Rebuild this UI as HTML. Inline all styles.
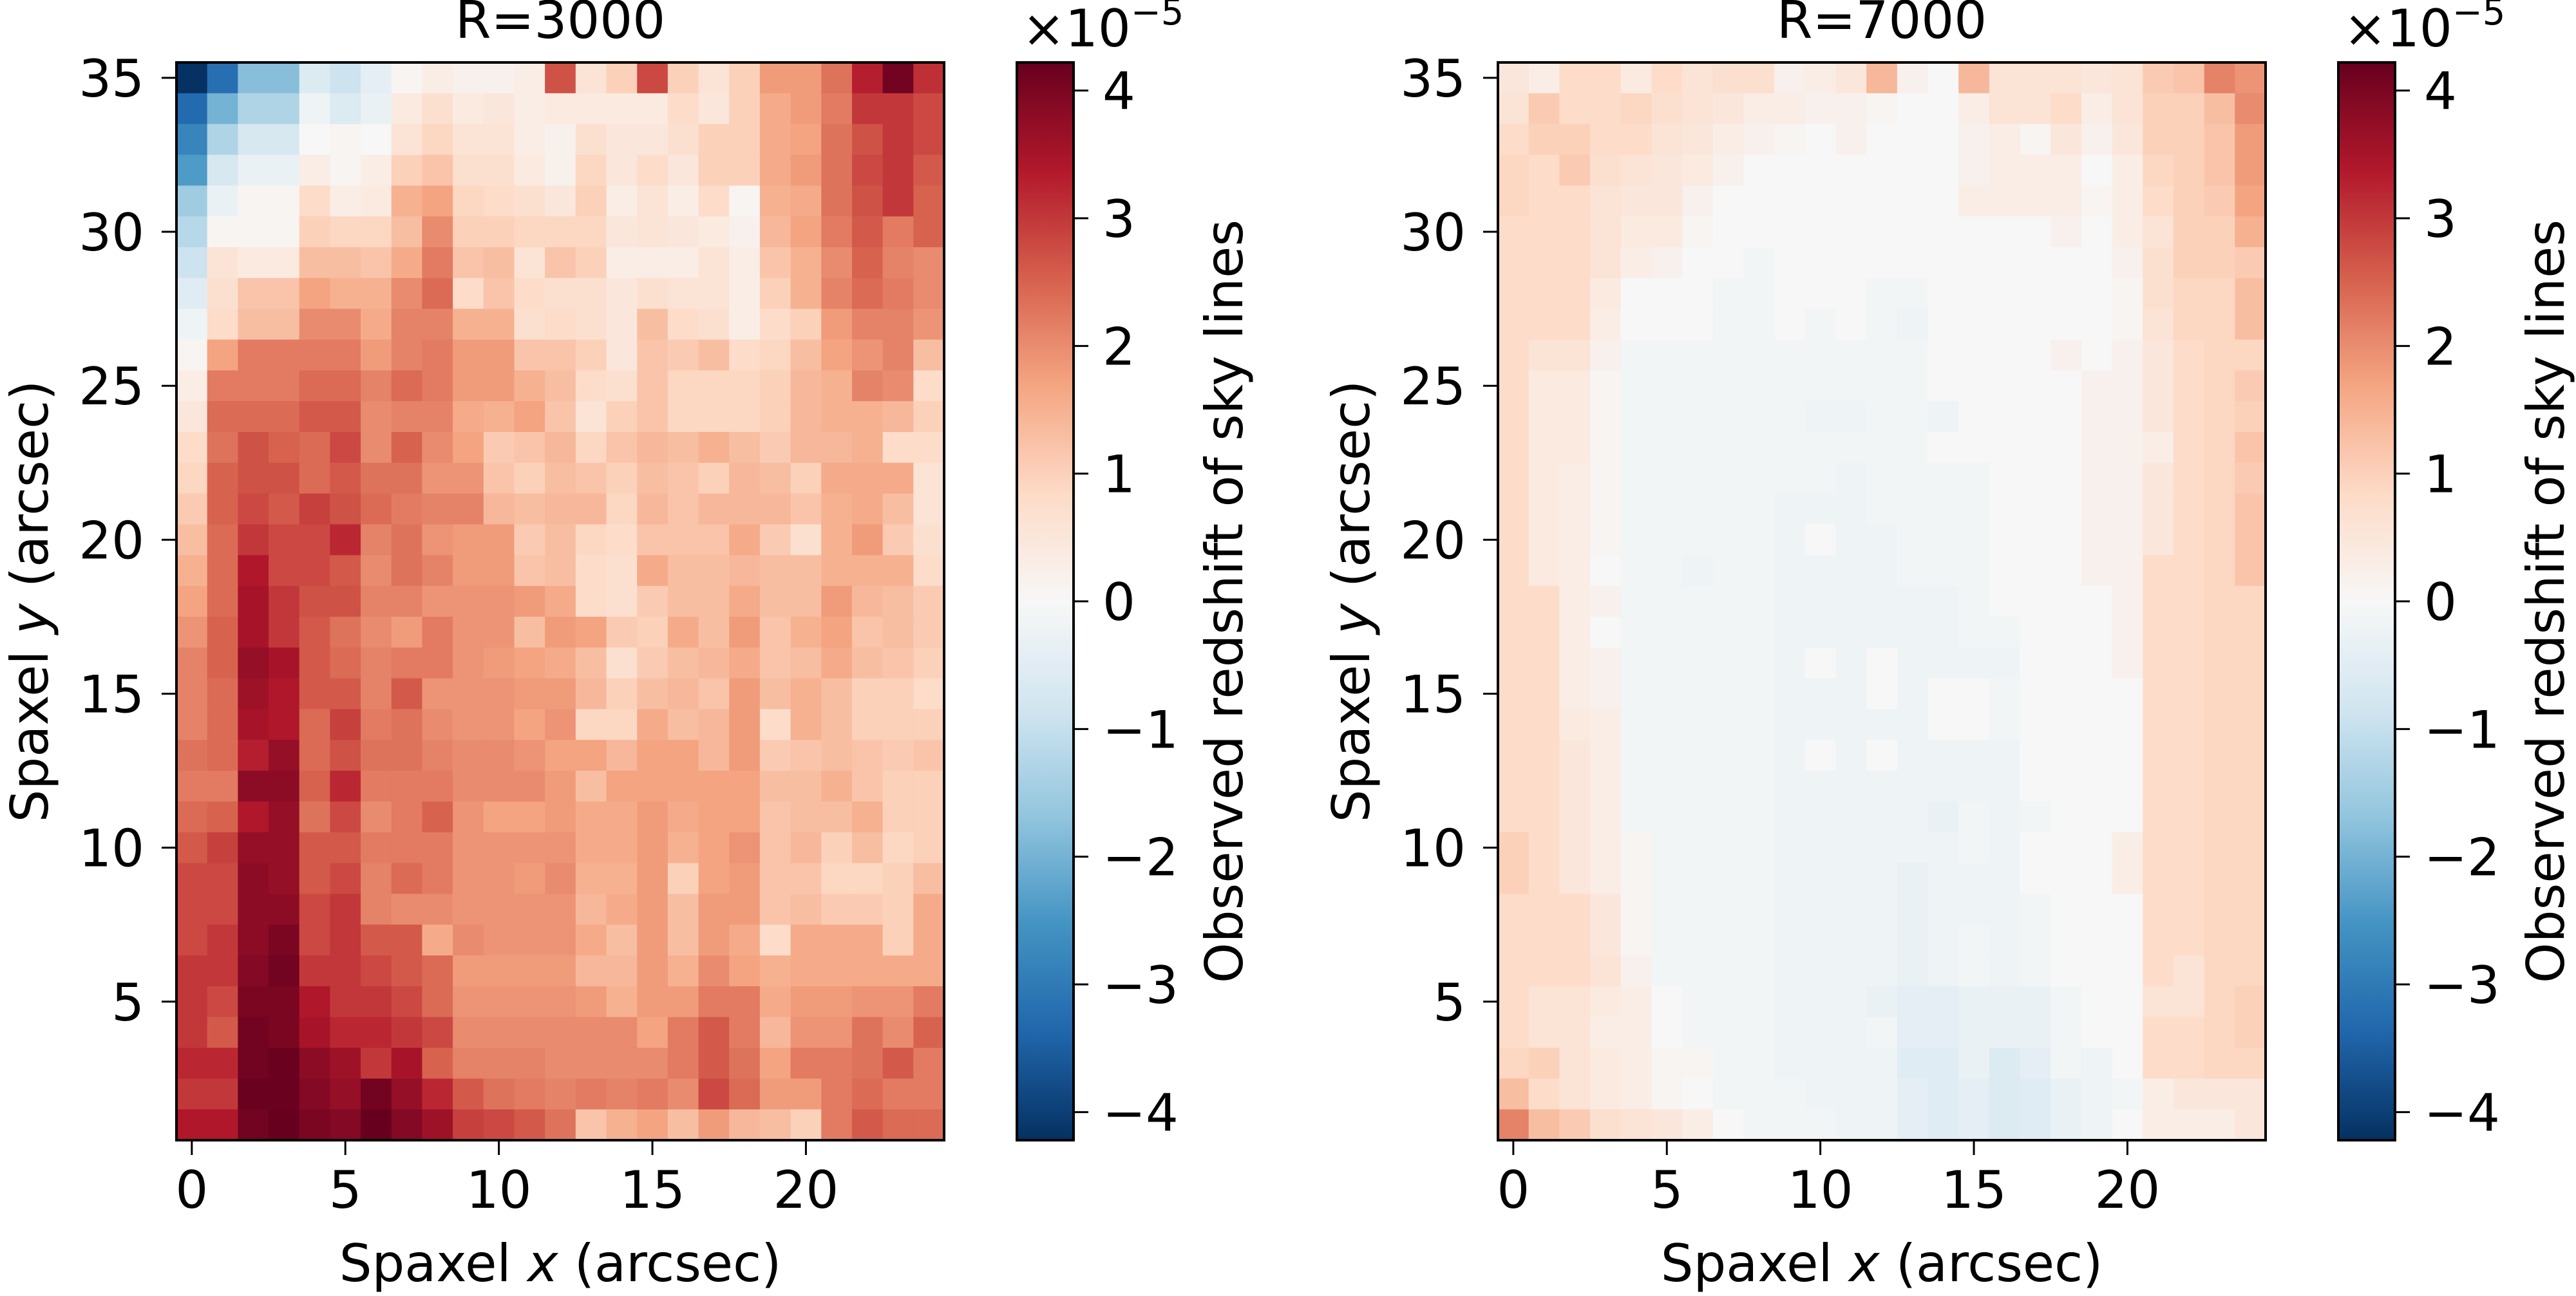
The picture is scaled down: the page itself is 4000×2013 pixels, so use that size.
<!DOCTYPE html>
<html><head><meta charset="utf-8">
<style>
html,body{margin:0;padding:0;background:#fff;}
svg text{font-family:"DejaVu Sans","Liberation Sans",sans-serif;fill:#000;}
</style></head>
<body>
<svg id="fig" xmlns="http://www.w3.org/2000/svg" width="4000" height="2008" viewBox="0 0 4000 2008">
<rect width="4000" height="2008" fill="#fff"/>
</svg>
<script>
// Values in units of 1e-5, rows from y=35 (top) down to y=1, columns x=0..24
const xTicks = [0,5,10,15,20];
const yTicks = [5,10,15,20,25,30,35];
const cbTicks = [-4,-3,-2,-1,0,1,2,3,4];
const cbTickLabels = ["\u22124","\u22123","\u22122","\u22121","0","1","2","3","4"];
const vmax = 4.22;
const titles = ["R=3000","R=7000"];
const gridR3000 = [
[-4.2,-3.2,-1.8,-1.8,-0.6,-0.9,-0.4,0.1,0.3,0.2,0.2,0.3,2.7,0.6,1.0,2.8,1.0,0.6,1.0,1.8,1.8,2.3,3.3,4.1,3.1],
[-3.3,-2.0,-1.3,-1.3,-0.2,-0.6,-0.3,0.4,0.7,0.4,0.5,0.3,0.4,0.4,0.4,0.4,0.8,0.5,1.0,1.6,1.8,2.2,3.0,3.0,2.8],
[-2.8,-1.3,-0.7,-0.7,0.0,0.1,0.0,0.6,0.9,0.6,0.6,0.3,0.2,0.7,0.5,0.5,0.7,1.0,1.0,1.6,1.7,2.3,2.7,3.0,2.8],
[-2.4,-0.7,-0.3,-0.3,0.3,0.1,0.3,1.0,1.2,0.7,0.7,0.4,0.2,0.9,0.5,0.8,0.5,1.0,1.0,1.6,1.8,2.3,2.8,3.0,2.6],
[-1.5,-0.3,0.1,0.1,0.8,0.3,0.4,1.5,1.7,0.9,0.8,0.7,0.5,1.0,0.3,0.6,0.3,0.8,0.1,1.5,1.6,2.3,2.7,3.0,2.5],
[-1.2,0.1,0.1,0.1,1.0,0.9,0.9,1.3,2.0,1.0,1.0,0.9,0.9,0.9,0.5,0.6,0.5,0.4,0.2,1.4,1.7,2.2,2.6,2.2,2.5],
[-0.9,0.6,0.4,0.4,1.3,1.3,1.2,1.6,2.2,1.2,1.3,0.6,1.2,1.0,0.3,0.3,0.3,0.6,0.3,1.2,1.5,2.0,2.5,2.1,2.0],
[-0.5,0.7,1.2,1.2,1.7,1.5,1.5,2.0,2.4,0.8,1.2,0.8,0.7,0.7,0.5,0.7,0.6,0.6,0.3,1.0,1.5,2.1,2.4,2.2,2.0],
[-0.2,0.8,1.3,1.3,2.0,2.0,1.6,2.1,2.1,1.5,1.5,0.7,0.8,0.7,0.5,1.3,0.8,0.7,0.3,0.8,1.0,1.8,2.1,2.1,1.9],
[0.1,1.7,2.2,2.2,2.2,2.2,1.8,2.1,2.2,1.8,1.8,1.2,1.2,1.0,0.5,1.2,1.1,1.3,0.8,0.9,1.3,1.7,1.9,2.1,1.3],
[0.3,2.2,2.2,2.2,2.4,2.4,2.1,2.4,2.2,1.8,1.8,1.5,1.3,0.8,0.7,1.2,0.9,0.9,0.9,1.0,1.4,1.5,2.1,2.0,0.8],
[0.5,2.4,2.4,2.4,2.6,2.6,2.0,2.1,2.1,1.6,1.5,1.7,1.2,0.6,1.0,1.2,0.9,0.9,0.9,1.0,1.4,1.5,1.5,1.4,1.0],
[0.8,2.3,2.7,2.5,2.4,2.8,2.0,2.5,2.0,1.7,1.1,1.2,1.4,0.9,1.2,1.4,1.3,1.5,1.3,1.1,1.4,1.4,1.5,0.8,0.8],
[0.9,2.5,2.7,2.7,2.4,2.6,2.3,2.3,1.9,1.9,1.2,1.0,1.3,1.2,1.0,1.3,1.2,1.0,1.4,1.3,1.0,1.6,1.6,1.6,0.6],
[1.1,2.5,2.8,2.6,2.9,2.7,2.4,2.2,2.1,2.1,1.4,1.3,1.4,1.4,0.9,1.4,1.2,1.4,1.4,1.4,1.2,1.5,1.6,1.3,0.6],
[1.3,2.4,3.0,2.8,2.8,3.2,2.1,2.3,1.9,1.8,1.8,1.1,1.3,0.9,0.8,1.2,1.2,1.2,1.6,1.1,0.7,1.5,1.8,1.1,0.7],
[1.5,2.4,3.4,2.8,2.8,2.6,2.0,2.3,2.1,1.8,1.8,1.2,1.3,0.8,0.7,1.6,1.3,1.3,1.4,1.3,1.3,1.5,1.5,1.5,0.8],
[1.7,2.4,3.5,3.0,2.7,2.7,2.1,2.1,1.9,1.9,1.9,1.8,1.6,0.8,0.7,1.1,1.3,1.3,1.6,1.3,1.3,1.8,1.4,1.3,1.1],
[1.9,2.5,3.5,3.0,2.6,2.3,2.0,1.8,2.2,1.9,1.9,1.3,1.8,1.7,1.1,1.0,1.6,1.3,1.8,1.2,1.5,1.7,1.2,1.3,1.1],
[2.1,2.5,3.7,3.5,2.6,2.4,2.1,2.2,2.2,1.9,1.8,1.7,1.6,1.3,0.7,1.1,1.3,1.4,1.6,1.2,1.3,1.6,1.3,1.2,1.0],
[2.1,2.4,3.6,3.4,2.6,2.6,2.1,2.6,1.9,1.9,1.9,1.8,1.8,1.4,1.0,1.3,1.4,1.2,1.8,1.3,1.5,1.3,1.0,1.0,0.8],
[2.1,2.4,3.5,3.4,2.4,2.9,2.2,2.3,2.0,1.9,1.9,1.7,1.9,0.9,0.9,1.6,1.3,1.4,1.8,0.8,1.5,1.3,1.0,1.0,1.0],
[2.3,2.4,3.3,3.7,2.4,2.7,2.3,2.3,2.1,2.0,2.0,1.9,1.7,1.7,1.4,1.7,1.7,1.4,1.8,1.1,1.2,1.3,1.2,1.1,1.2],
[2.2,2.2,3.8,3.8,2.5,3.2,2.2,2.2,2.2,2.0,2.0,2.0,1.8,1.3,1.7,1.7,1.7,1.7,1.7,1.3,1.3,1.5,1.2,1.0,1.0],
[2.4,2.5,3.4,3.7,2.3,2.8,2.0,2.2,2.5,1.9,1.7,1.7,1.8,1.6,1.6,1.8,1.6,1.7,1.7,1.2,1.3,1.3,1.5,1.0,1.0],
[2.6,2.9,3.7,3.7,2.6,2.6,2.2,2.2,2.2,1.9,1.9,1.9,1.9,1.6,1.6,1.8,1.5,1.7,1.9,1.2,1.4,1.0,1.3,0.9,1.0],
[2.8,2.8,3.8,3.7,2.6,2.8,2.1,2.4,2.2,1.9,1.9,1.8,2.0,1.5,1.5,1.8,1.0,1.7,1.8,1.2,1.2,0.9,0.9,1.0,1.3],
[2.8,2.8,3.8,3.8,2.8,3.0,2.1,2.0,2.0,1.9,1.9,1.9,1.9,1.4,1.6,1.8,1.3,1.8,1.8,1.2,1.3,1.1,1.1,1.0,1.6],
[2.8,3.0,3.8,4.0,2.8,3.0,2.6,2.6,1.6,2.0,1.9,1.9,1.9,1.6,1.3,1.8,1.3,1.8,1.6,0.8,1.6,1.6,1.6,1.0,1.6],
[3.0,3.0,3.9,4.1,3.0,3.0,2.8,2.6,2.4,1.8,1.8,1.8,1.8,1.4,1.4,1.8,1.5,2.0,1.7,1.5,1.6,1.6,1.6,1.6,1.6],
[3.0,2.8,4.0,4.0,3.4,3.0,3.0,2.8,2.4,1.9,1.9,1.9,1.9,1.8,1.5,1.8,1.8,2.2,2.2,1.6,1.8,1.8,1.9,1.9,2.2],
[3.0,2.6,4.1,4.0,3.5,3.2,3.2,3.0,2.8,2.0,2.0,2.0,2.0,2.0,2.0,1.7,2.2,2.6,2.2,1.4,1.9,1.9,2.3,2.0,2.5],
[3.2,3.2,4.1,4.2,3.8,3.6,3.0,3.5,2.5,2.1,2.1,2.1,2.0,2.0,2.0,2.0,2.2,2.6,2.3,1.7,2.2,2.2,2.3,2.6,2.2],
[3.0,3.0,4.2,4.2,3.9,3.7,4.1,3.7,3.2,2.6,2.3,2.2,2.1,2.2,2.1,2.2,2.0,2.8,2.4,1.8,1.8,2.2,2.4,2.2,2.2],
[3.4,3.4,4.1,4.4,4.0,3.9,4.3,3.9,3.6,2.9,2.8,2.6,2.3,1.2,1.5,1.7,1.3,1.8,1.4,1.3,1.0,2.2,2.6,2.4,2.4]
];
const gridR7000 = [
[0.5,0.3,0.8,0.8,0.4,0.8,0.6,0.7,0.7,0.2,0.3,0.5,1.4,0.2,0.0,1.4,0.6,0.6,0.6,0.5,0.6,1.1,1.2,2.1,1.9],
[0.6,1.1,0.8,0.8,0.9,0.7,0.6,0.5,0.3,0.3,0.2,0.2,0.1,0.0,0.0,0.3,0.6,0.6,0.8,0.3,0.6,1.0,1.0,1.3,2.0],
[0.8,1.0,1.0,0.8,0.8,0.6,0.5,0.3,0.2,0.1,0.0,0.2,0.0,0.0,0.0,0.2,0.3,0.1,0.5,0.2,0.5,1.0,1.0,1.2,1.8],
[0.9,0.8,1.1,0.7,0.6,0.5,0.4,0.2,0.0,0,0,0,0,0,0,0.2,0.3,0.3,0.3,0.0,0.3,0.9,1.0,1.2,1.8],
[0.9,0.8,0.8,0.6,0.5,0.5,0.2,0,0,0,0,0,0,0,0,0.3,0.3,0.3,0.3,0.1,0.3,0.8,1.0,1.1,1.7],
[0.8,0.8,0.8,0.6,0.4,0.4,0.1,0,0,0,0,0,0,0,0,0,0,0,0.2,0,0.3,0.6,1.0,1.0,1.5],
[0.8,0.8,0.8,0.6,0.3,0.2,0,0,-0.1,0,0,0,0,0,0,0,0,0,0,0,0.2,0.7,1.0,1.0,1.1],
[0.8,0.8,0.8,0.4,0,0,0,-0.1,-0.1,0,0,0,-0.1,-0.1,0,0,0,0,0,0,0.1,0.7,0.9,0.9,1.3],
[0.8,0.8,0.8,0.3,0,0,0,-0.1,-0.1,0,-0.1,0,-0.1,-0.2,0,0,0,0,0,0,0.1,0.6,0.9,0.9,1.3],
[0.8,0.6,0.6,0.2,-0.1,-0.1,-0.1,-0.1,-0.1,-0.1,-0.1,-0.1,-0.1,-0.1,0,0,0,0,0.2,0.0,0.2,0.5,0.8,0.9,0.9],
[0.8,0.4,0.4,0.1,-0.1,-0.1,-0.1,-0.1,-0.1,-0.1,-0.1,-0.1,-0.1,-0.1,0,0,0,0,0,0.2,0.2,0.5,0.8,0.9,1.1],
[0.8,0.4,0.4,0.1,-0.1,-0.1,-0.1,-0.1,-0.1,-0.1,-0.2,-0.2,-0.1,-0.1,-0.2,0,0,0,0,0.2,0.2,0.5,0.8,0.9,1.0],
[0.8,0.4,0.4,0.1,-0.1,-0.1,-0.1,-0.1,-0.1,-0.1,-0.1,-0.1,-0.1,-0.1,0,0,0,0,0,0.2,0.2,0.3,0.8,0.9,1.2],
[0.8,0.4,0.3,0.1,-0.1,-0.1,-0.1,-0.1,-0.1,-0.1,-0.1,-0.2,-0.1,-0.1,-0.1,-0.1,0,0,0,0.2,0.2,0.5,0.8,0.9,1.1],
[0.8,0.4,0.3,0.1,-0.1,-0.1,-0.1,-0.1,-0.1,-0.2,-0.2,-0.2,-0.1,-0.1,-0.1,-0.1,0,0,0,0.2,0.2,0.5,0.8,0.9,1.2],
[0.8,0.4,0.3,0.1,-0.1,-0.1,-0.1,-0.1,-0.1,-0.2,0.0,-0.2,-0.2,-0.1,-0.1,-0.1,0,0,0,0.2,0.2,0.5,0.8,0.9,1.2],
[0.8,0.4,0.3,0,-0.1,-0.1,-0.2,-0.1,-0.1,-0.2,-0.2,-0.2,-0.2,-0.1,-0.1,-0.1,0,0,0,0.2,0.2,0.8,0.8,0.9,1.2],
[0.8,0.8,0.3,0.2,-0.1,-0.1,-0.1,-0.1,-0.1,-0.2,-0.2,-0.2,-0.2,-0.2,-0.2,-0.1,0,0,0,0,0.2,0.8,0.8,0.9,0.9],
[0.8,0.8,0.3,0.0,-0.1,-0.1,-0.1,-0.1,-0.1,-0.2,-0.2,-0.2,-0.2,-0.2,-0.2,-0.1,-0.1,0,0,0,0.2,0.8,0.8,0.9,0.9],
[0.8,0.8,0.3,0.2,-0.1,-0.1,-0.1,-0.1,-0.1,-0.2,0,-0.2,0,-0.2,-0.2,-0.2,-0.2,0,0,0,0.2,0.8,0.8,0.9,0.9],
[0.8,0.8,0.3,0.2,-0.1,-0.1,-0.1,-0.1,-0.1,-0.2,-0.2,-0.2,0,-0.2,0,0,-0.1,0,0,0,0,0.8,0.8,0.9,0.9],
[0.8,0.8,0.4,0.3,-0.1,-0.1,-0.1,-0.1,-0.1,-0.2,-0.2,-0.2,-0.2,-0.2,0,0,-0.1,0,0,0,0,0.8,0.8,0.9,0.9],
[0.8,0.8,0.5,0.3,-0.1,-0.1,-0.1,-0.1,-0.1,-0.2,0,-0.2,0,-0.2,-0.2,-0.2,-0.2,0,0,0,0,0.8,0.8,0.9,0.9],
[0.8,0.8,0.5,0.3,-0.1,-0.1,-0.1,-0.1,-0.1,-0.2,-0.2,-0.2,-0.2,-0.2,-0.2,-0.2,-0.2,0,0,0,0,0.8,0.8,0.9,0.9],
[0.8,0.8,0.5,0.3,-0.1,-0.1,-0.1,-0.1,-0.1,-0.2,-0.2,-0.2,-0.2,-0.2,-0.3,-0.1,-0.2,-0.1,0,0,0,0.8,0.8,0.9,0.9],
[1.0,0.8,0.5,0.3,0.1,-0.1,-0.1,-0.1,-0.1,-0.2,-0.2,-0.2,-0.2,-0.2,-0.2,-0.1,-0.2,0,0,0,0.3,0.8,0.8,0.9,0.9],
[1.0,0.8,0.5,0.3,0.1,-0.1,-0.1,-0.1,-0.1,-0.2,-0.2,-0.2,-0.2,-0.3,-0.2,-0.2,-0.2,0,0,0,0.3,0.8,0.8,0.9,0.9],
[0.8,0.8,0.8,0.5,0.1,-0.1,-0.1,-0.1,-0.1,-0.2,-0.2,-0.2,-0.2,-0.3,-0.2,-0.2,-0.2,-0.1,0,0,0,0.8,0.8,0.9,0.9],
[0.8,0.8,0.8,0.5,0.1,-0.1,-0.1,-0.1,-0.1,-0.2,-0.2,-0.2,-0.2,-0.3,-0.2,-0.1,-0.2,-0.1,0,0,0,0.8,0.8,0.9,0.9],
[0.8,0.8,0.8,0.6,0.2,-0.1,-0.1,-0.1,-0.1,-0.2,-0.2,-0.2,-0.2,-0.3,-0.2,-0.1,-0.2,-0.1,0,0,0,0.8,0.6,0.9,0.9],
[0.8,0.6,0.6,0.4,0.3,0,-0.1,-0.1,-0.1,-0.2,-0.2,-0.2,-0.3,-0.4,-0.4,-0.3,-0.3,-0.3,-0.1,0,0,0.6,0.6,0.9,1.0],
[0.8,0.6,0.6,0.3,0.3,0,-0.1,-0.1,-0.1,-0.2,-0.2,-0.2,-0.1,-0.4,-0.4,-0.3,-0.3,-0.3,-0.1,0,0,0.8,0.8,0.9,1.0],
[0.9,1.0,0.6,0.4,0.3,0.1,0.1,-0.1,-0.1,-0.2,-0.2,-0.2,-0.2,-0.5,-0.5,-0.3,-0.6,-0.4,-0.1,-0.2,0,0.8,0.8,0.9,0.9],
[1.3,0.8,0.6,0.4,0.3,0.1,0,-0.1,-0.1,-0.1,-0.2,-0.2,-0.2,-0.4,-0.5,-0.4,-0.6,-0.5,-0.3,-0.2,-0.1,0.3,0.5,0.5,0.5],
[2.1,1.3,1.1,0.7,0.6,0.5,0.3,0,-0.1,-0.1,-0.1,-0.2,-0.2,-0.4,-0.5,-0.4,-0.6,-0.5,-0.3,-0.2,0,0.3,0.3,0.3,0.5]
];

const NS = "http://www.w3.org/2000/svg";
const svg = document.getElementById('fig');
const anchors = ["#053061","#2166ac","#4393c3","#92c5de","#d1e5f0","#f7f7f7","#fddbc7","#f4a582","#d6604d","#b2182b","#67001f"].map(h=>[parseInt(h.substr(1,2),16),parseInt(h.substr(3,2),16),parseInt(h.substr(5,2),16)]);
function cmap(v){
  let t=(v+vmax)/(2*vmax); t=Math.max(0,Math.min(1,t));
  const p=t*10, i=Math.min(9,Math.floor(p)), f=p-i;
  const a=anchors[i], b=anchors[i+1];
  return "rgb("+a.map((c,k)=>Math.round(c+(b[k]-c)*f)).join(",")+")";
}
function mk(tag, attrs, parent){
  const e=document.createElementNS(NS,tag);
  for(const k in attrs) e.setAttribute(k, attrs[k]);
  (parent||svg).appendChild(e); return e;
}
const panels=[{x0:274,x1:1466,grid:gridR3000,cb:1579},{x0:2326,x1:3518,grid:gridR7000,cb:3631}];
const Y0=97, Y1=1771, CBW=88;
panels.forEach((P,pi)=>{
  const nx=25, ny=35;
  const sx=v=>P.x0+(v+0.5)*(P.x1-P.x0)/nx;
  const sy=v=>Y1-(v-0.5)*(Y1-Y0)/ny;
  const g=mk('g',{});
  
  
  P.grid.forEach((row,ri)=>{
    const yv=35-ri;
    row.forEach((v,xi)=>{
      const r=mk('rect',{x:sx(xi-0.5).toFixed(2),y:sy(yv+0.5).toFixed(2),width:(sx(xi+0.5)-sx(xi-0.5)+0.6).toFixed(2),height:(sy(yv-0.5)-sy(yv+0.5)+0.6).toFixed(2),fill:cmap(v)},g);
      
      
    });
  });
  const fr=mk('rect',{x:P.x0,y:Y0,width:P.x1-P.x0,height:Y1-Y0,fill:'none',stroke:'#000','stroke-width':4});
  
  
  xTicks.forEach(t=>{
    mk('line',{x1:sx(t),x2:sx(t),y1:Y1,y2:Y1+23,stroke:'#000','stroke-width':3});
    const tx=mk('text',{x:sx(t),y:1876,'font-size':80,'text-anchor':'middle'}); tx.textContent=t;
    
    
  });
  yTicks.forEach(t=>{
    mk('line',{x1:P.x0-23,x2:P.x0,y1:sy(t),y2:sy(t),stroke:'#000','stroke-width':3});
    const tx=mk('text',{x:P.x0-50,y:sy(t)+29,'font-size':80,'text-anchor':'end'}); tx.textContent=t;
    
    
  });
  const title=mk('text',{x:(P.x0+P.x1)/2,y:59,'font-size':80,'text-anchor':'middle'}); title.textContent=titles[pi];
  
  
  const xl=mk('text',{x:(P.x0+P.x1)/2,y:1990,'font-size':80,'text-anchor':'middle'});
  xl.innerHTML='Spaxel <tspan font-style="italic">x</tspan> (arcsec)';
  
  
  const ylx=P.x0-200;
  const yl=mk('text',{x:ylx,y:(Y0+Y1)/2,'font-size':80,'text-anchor':'middle',transform:'rotate(-90 '+ylx+' '+(Y0+Y1)/2+')'});
  yl.innerHTML='Spaxel <tspan font-style="italic">y</tspan> (arcsec)';
  
  
  // colorbar
  const gid='cbg'+pi;
  const defs=mk('defs',{});
  const lg=mk('linearGradient',{id:gid,x1:0,y1:1,x2:0,y2:0},defs);
  for(let i=0;i<=40;i++){ const v=-vmax+2*vmax*i/40; mk('stop',{offset:(i/40).toFixed(3),'stop-color':cmap(v)},lg); }
  const cb=mk('rect',{x:P.cb,y:Y0,width:CBW,height:Y1-Y0,fill:'url(#'+gid+')',stroke:'#000','stroke-width':4});
  
  
  const cy=v=>(Y0+Y1)/2 - v*(Y1-Y0)/(2*vmax);
  cbTicks.forEach((t,i)=>{
    mk('line',{x1:P.cb+CBW,x2:P.cb+CBW+23,y1:cy(t),y2:cy(t),stroke:'#000','stroke-width':3});
    const tx=mk('text',{x:P.cb+CBW+45,y:cy(t)+29,'font-size':80}); tx.textContent=cbTickLabels[i];
    
    
  });
  const ex=mk('text',{x:P.cb+8,y:72,'font-size':80});
  ex.innerHTML='\u00d710<tspan font-size="56" dy="-34">\u22125</tspan>';
  
  
  const lx=P.cb+350;
  const cl=mk('text',{x:lx,y:(Y0+Y1)/2,'font-size':80,'text-anchor':'middle',transform:'rotate(-90 '+lx+' '+(Y0+Y1)/2+')'});
  cl.textContent='Observed redshift of sky lines';
  
  
});
</script>
</body></html>
